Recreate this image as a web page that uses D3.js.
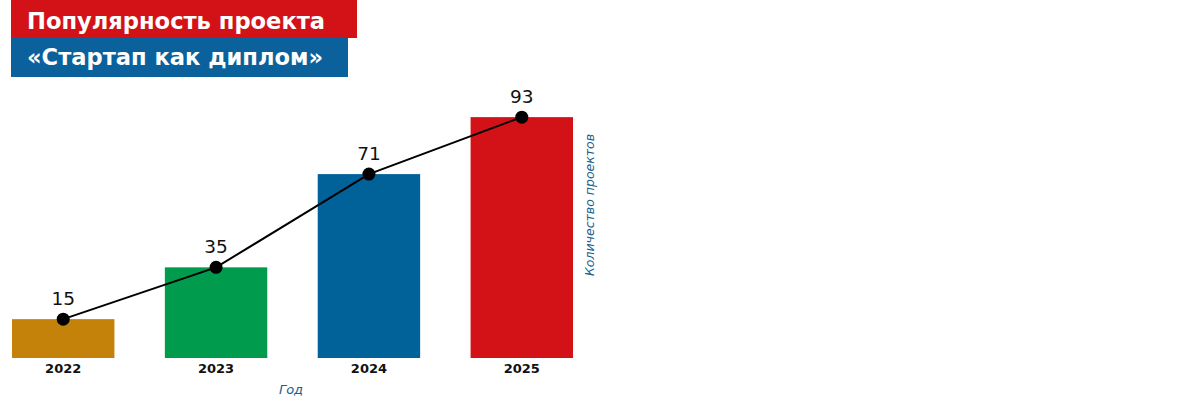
<!DOCTYPE html>
<html><head><meta charset="utf-8">
<script src="https://cdn.jsdelivr.net/npm/d3@7"></script>
<style>body{margin:0;background:#fff;}svg{display:block;}</style>
</head><body>
<svg id="c" width="1200" height="400"></svg>
<script>
const years = ["2022","2023","2024","2025"];
const values = [15, 35, 71, 93];
const barColors = ["#c4820a","#019b4e","#016199","#d31217"];
const titleLines = ["Популярность проекта","«Стартап как диплом»"];
const xTitle = "Год";
const yTitle = "Количество проектов";

const svg = d3.select("#c");
const font = "DejaVu Sans, Verdana, sans-serif";

// Title banner
svg.append("rect").attr("x",11).attr("y",0).attr("width",346).attr("height",38).attr("fill","#d31217");
svg.append("rect").attr("x",11).attr("y",38).attr("width",337).attr("height",39).attr("fill","#0b619b");
svg.selectAll("text.title").data(titleLines).enter().append("text")
  .attr("class","title").attr("x",27).attr("y",(d,i)=>i===0?29:65)
  .attr("fill","#fff").attr("font-family",font).attr("font-weight","bold").attr("font-size",22.6)
  .text(d=>d);

const x = d3.scaleBand().domain(years).range([12,573]).paddingInner(0.33).paddingOuter(0);
const y = d3.scaleLinear().domain([0,100]).range([358, 99]);

const g = svg.append("g");
g.selectAll("rect.bar").data(years).enter().append("rect")
  .attr("class","bar")
  .attr("x",d=>x(d)).attr("width",x.bandwidth())
  .attr("y",(d,i)=>y(values[i])).attr("height",(d,i)=>y(0)-y(values[i]))
  .attr("fill",(d,i)=>barColors[i]);

// x axis labels
const xAxis = d3.axisBottom(x).tickSize(0).tickPadding(6);
const ax = g.append("g").attr("transform",`translate(0,${y(0)})`).call(xAxis);
ax.select(".domain").remove();
ax.selectAll("text").attr("font-family",font).attr("font-weight","bold").attr("font-size",13).attr("fill","#111");

// line
const pts = years.map((d,i)=>[x(d)+x.bandwidth()/2, y(values[i])]);
g.append("path").attr("d",d3.line()(pts)).attr("fill","none").attr("stroke","#000").attr("stroke-width",2);
g.selectAll("circle").data(pts).enter().append("circle")
  .attr("cx",d=>d[0]).attr("cy",d=>d[1]).attr("r",6.5).attr("fill","#000");
g.selectAll("text.val").data(pts).enter().append("text")
  .attr("class","val").attr("x",d=>d[0]).attr("y",d=>d[1]-14)
  .attr("text-anchor","middle").attr("font-family",font).attr("font-size",18.5).attr("fill","#111")
  .text((d,i)=>values[i]);

// axis titles
svg.append("text").attr("x",291).attr("y",394).attr("text-anchor","middle")
  .attr("font-family",font).attr("font-style","italic").attr("font-size",13).attr("fill","#17608f").text(xTitle);
svg.append("text").attr("transform","translate(594,205) rotate(-90)").attr("text-anchor","middle")
  .attr("font-family",font).attr("font-style","italic").attr("font-size",12.5).attr("fill","#17608f").text(yTitle);
</script>
</body></html>
